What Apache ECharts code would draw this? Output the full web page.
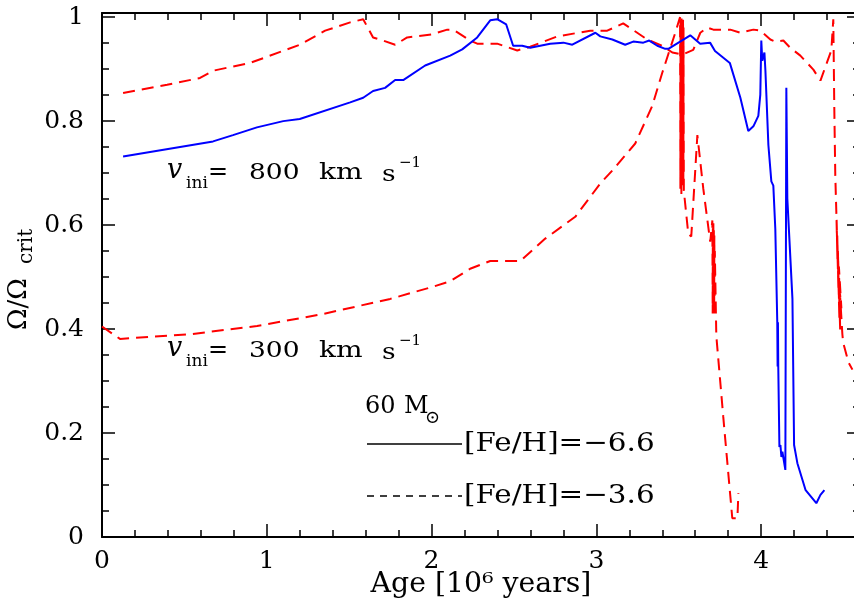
<!DOCTYPE html>
<html>
<head>
<meta charset="utf-8">
<script src="https://cdn.jsdelivr.net/npm/echarts@6/dist/echarts.min.js"></script>
<style>
html, body { margin: 0; padding: 0; background: #fff; }
#chart { width: 854px; height: 602px; }
</style>
</head>
<body>
<div id="chart"></div>
<script>
// data: age in Myr, Omega/Omega_crit
// blue solid: [Fe/H]=-6.6, v_ini=800
const blueAge = [0.128, 0.674, 0.795, 0.94, 1.10, 1.20, 1.506, 1.585, 1.645, 1.718, 1.779, 1.828, 1.961, 2.113, 2.186, 2.277, 2.356, 2.398, 2.453, 2.495,
    2.55, 2.599, 2.72, 2.80, 2.854, 2.994, 3.024, 3.097, 3.175, 3.224, 3.285, 3.321, 3.37, 3.418, 3.437, 3.57, 3.63, 3.69, 3.72, 3.81,
    3.874, 3.922, 3.953, 3.983, 3.995, 4.001, 4.007, 4.02, 4.026, 4.038, 4.044, 4.062, 4.074, 4.086, 4.098, 4.100, 4.102, 4.104, 4.111, 4.117,
    4.123, 4.129, 4.147, 4.153, 4.159, 4.19, 4.20, 4.22, 4.27, 4.335, 4.36, 4.384]
const blueOmega = [0.732, 0.761, 0.773, 0.788, 0.800, 0.804, 0.836, 0.845, 0.858, 0.864, 0.879, 0.879, 0.907, 0.926, 0.938, 0.961, 0.994, 0.996, 0.986, 0.945,
    0.945, 0.941, 0.949, 0.951, 0.947, 0.970, 0.963, 0.957, 0.947, 0.953, 0.951, 0.955, 0.945, 0.939, 0.939, 0.965, 0.949, 0.951, 0.935, 0.912,
    0.845, 0.781, 0.790, 0.810, 0.851, 0.955, 0.916, 0.932, 0.897, 0.897, 0.754, 0.684, 0.676, 0.593, 0.413, 0.328, 0.413, 0.328, 0.173, 0.177,
    0.154, 0.164, 0.129, 0.864, 0.651, 0.458, 0.177, 0.142, 0.090, 0.065, 0.081, 0.090]

// red dashed, [Fe/H]=-3.6, v_ini=800 (upper track)
const redHiAge = [0.128, 0.395, 0.595, 0.674, 0.899, 1.202, 1.354, 1.506, 1.585, 1.645, 1.706, 1.779, 1.852, 2.004, 2.095, 2.131, 2.234, 2.277, 2.398, 2.52,
    2.599, 2.763, 2.963, 3.066, 3.163, 3.248, 3.309, 3.40, 3.461, 3.522, 3.588, 3.631, 3.673, 3.71, 3.813, 3.874, 3.953, 3.995, 4.056, 4.086,
    4.135, 4.177, 4.238, 4.317, 4.36, 4.372, 4.426, 4.438, 4.444, 4.45, 4.457, 4.463, 4.458, 4.469, 4.462, 4.475, 4.466, 4.48, 4.472, 4.487,
    4.478, 4.493, 4.498, 4.53, 4.554]
const redHiOmega = [0.854, 0.870, 0.883, 0.897, 0.912, 0.947, 0.974, 0.990, 0.996, 0.961, 0.955, 0.947, 0.961, 0.967, 0.976, 0.976, 0.955, 0.949, 0.949, 0.936,
    0.943, 0.963, 0.974, 0.974, 0.988, 0.970, 0.957, 0.945, 0.932, 0.928, 0.937, 0.970, 0.980, 0.976, 0.976, 0.970, 0.976, 0.974, 0.957, 0.953,
    0.955, 0.941, 0.926, 0.899, 0.878, 0.880, 0.936, 0.996, 0.826, 0.696, 0.618, 0.535, 0.61, 0.477, 0.58, 0.419, 0.55, 0.394, 0.52, 0.440,
    0.47, 0.39, 0.374, 0.336, 0.322]

// red dashed, [Fe/H]=-3.6, v_ini=300 (lower track)
const redLoAge = [0.0, 0.109, 0.534, 0.941, 1.342, 1.749, 2.004, 2.113, 2.234, 2.356, 2.538, 2.69, 2.872, 3.024, 3.097, 3.236, 3.339, 3.40, 3.479, 3.508,
    3.510, 3.511, 3.513, 3.514, 3.516, 3.517, 3.519, 3.520, 3.522, 3.523, 3.525, 3.526, 3.528, 3.529, 3.531, 3.558, 3.576, 3.613, 3.649, 3.691,
    3.704, 3.706, 3.707, 3.709, 3.710, 3.712, 3.713, 3.715, 3.716, 3.718, 3.719, 3.728, 3.77, 3.825, 3.856, 3.862]
const redLoOmega = [0.405, 0.381, 0.390, 0.406, 0.429, 0.458, 0.481, 0.492, 0.516, 0.531, 0.531, 0.574, 0.616, 0.680, 0.705, 0.757, 0.829, 0.893, 0.970, 1.0,
    0.67, 0.995, 0.68, 0.99, 0.66, 1.0, 0.70, 0.99, 0.67, 0.985, 0.72, 0.995, 0.68, 0.98, 0.666, 0.583, 0.578, 0.773, 0.670, 0.568,
    0.609, 0.43, 0.60, 0.44, 0.61, 0.45, 0.59, 0.43, 0.58, 0.44, 0.55, 0.387, 0.232, 0.036, 0.036, 0.084]

const xMajor = [0, 1, 2, 3, 4]
const yMajor = [0, 0.2, 0.4, 0.6, 0.8, 1]

const FONT = 'DejaVu Serif'
const X_MAX = 4.6
const Y_MAX = 1.008

let zip = (a, b) => a.map((v, i) => [v, b[i]])
let near = (v, list) => list.some(m => Math.abs(m - v) < 1e-6)

let myChart = echarts.init(document.getElementById('chart'), null, { renderer: 'canvas' })

// one axis = one side of the frame; fine ticks drawn by a twin axis
let xAx = (pos, interval, len, main) => ({
    type: 'value', position: pos, min: 0, max: X_MAX, interval: interval,
    axisLine: { show: main, onZero: false, lineStyle: { color: '#000', width: 2 } },
    axisTick: { show: true, inside: true, length: len, lineStyle: { color: '#000', width: 1.5 } },
    axisLabel: {
        show: main && pos === 'bottom', margin: 12, fontSize: 25, fontFamily: FONT, color: '#000',
        formatter: v => near(v, xMajor) ? String(Math.round(v)) : ''
    },
    splitLine: { show: false }
})
let yAx = (pos, interval, len, main) => ({
    type: 'value', position: pos, min: 0, max: Y_MAX, interval: interval,
    axisLine: { show: main, onZero: false, lineStyle: { color: '#000', width: 2 } },
    axisTick: { show: true, inside: true, length: len, lineStyle: { color: '#000', width: 1.5 } },
    axisLabel: {
        show: main && pos === 'left', margin: 18, fontSize: 25, fontFamily: FONT, color: '#000',
        formatter: v => near(v, yMajor) ? (v === 0 ? '0' : v > 0.99 ? '1' : v.toFixed(1)) : ''
    },
    splitLine: { show: false }
})

let txt = (x, y, text, size, extra) => Object.assign({
    type: 'text', x: x, y: y, z: 10,
    style: Object.assign({ text: text, fontSize: size, fontFamily: FONT, fill: '#000', align: 'left', verticalAlign: 'middle' }, (extra && extra.style) || {})
}, (extra && extra.el) || {})

// v_ini labels (two copies, shifted)
let vini = (dy, speed) => [
    txt(167, 171 + dy, 'v', 27, { style: { fontStyle: 'italic' } }),
    txt(186, 184 + dy, 'ini', 17),
    txt(208, 173 + dy, '=', 24),
    txt(249, 173 + dy, speed, 23, { el: { scaleX: 1.15 } }),
    txt(319, 173 + dy, 'km', 23, { el: { scaleX: 1.22 } }),
    txt(382, 175 + dy, 's', 23, { el: { scaleX: 1.15 } }),
    txt(399, 163 + dy, '−1', 15)
]

let option = {
    animation: false,
    backgroundColor: '#fff',
    grid: { left: 102, right: -6, top: 13, bottom: 65, outerBoundsMode: 'none' },
    xAxis: [xAx('bottom', 1, 13, true), xAx('bottom', 0.2, 7, false), xAx('top', 1, 13, true), xAx('top', 0.2, 7, false)],
    yAxis: [yAx('left', 0.2, 13, true), yAx('left', 0.05, 7, false), yAx('right', 0.2, 13, true), yAx('right', 0.05, 7, false)],
    series: [
        {
            name: 'v300', type: 'line', data: zip(redLoAge, redLoOmega),
            symbol: 'none', z: 2,
            lineStyle: { color: '#ff0000', width: 2, type: [12, 7] }
        },
        {
            name: 'v800 -3.6', type: 'line', data: zip(redHiAge, redHiOmega),
            symbol: 'none', z: 2,
            lineStyle: { color: '#ff0000', width: 2, type: [12, 7] }
        },
        {
            name: 'v800 -6.6', type: 'line', data: zip(blueAge, blueOmega),
            symbol: 'none', z: 3,
            lineStyle: { color: '#0000ff', width: 2 }
        }
    ],
    graphic: [
        // y axis title
        {
            type: 'group', x: 19, y: 330, rotation: Math.PI / 2,
            children: [
                { type: 'text', x: 0, y: 0, style: { text: 'Ω/Ω', fontSize: 26, fontFamily: FONT, fill: '#000', align: 'left', verticalAlign: 'middle' } },
                { type: 'text', x: 66, y: 8, style: { text: 'crit', fontSize: 20, fontFamily: FONT, fill: '#000', align: 'left', verticalAlign: 'middle' } }
            ]
        },
        // x axis title
        txt(481, 585, 'Age [10⁶ years]', 27, { style: { align: 'center' }, el: { scaleX: 1.05 } }),
        ...vini(0, '800'),
        ...vini(178, '300'),
        // key
        txt(365, 407, '60', 24),
        txt(404, 407, 'M', 24),
        txt(425, 418, '⊙', 18),
        { type: 'line', shape: { x1: 367, y1: 444, x2: 462, y2: 444 }, style: { stroke: '#000', lineWidth: 1.5 } },
        { type: 'line', shape: { x1: 367, y1: 496, x2: 462, y2: 496 }, style: { stroke: '#000', lineWidth: 1.5, lineDash: [7, 6] } },
        txt(464, 444, '[Fe/H]=−6.6', 26, { el: { scaleX: 1.13 } }),
        txt(464, 496, '[Fe/H]=−3.6', 26, { el: { scaleX: 1.13 } })
    ]
}
myChart.setOption(option)
window.addEventListener('resize', function () {
    myChart.resize()
})
</script>
</body>
</html>
